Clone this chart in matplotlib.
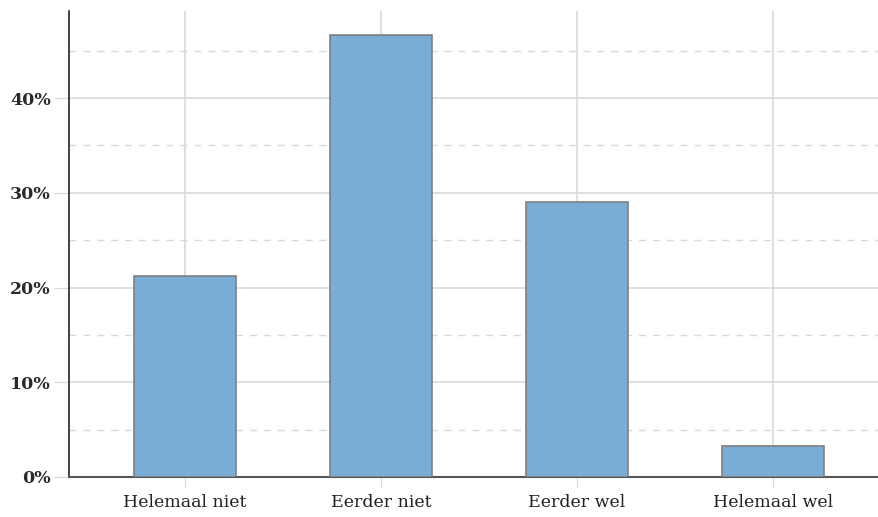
import matplotlib.pyplot as plt
from matplotlib.ticker import MultipleLocator, FuncFormatter

# Data
categories = ["Helemaal niet", "Eerder niet", "Eerder wel", "Helemaal wel"]
percentages = [21.2, 46.7, 29.0, 3.3]

plt.rcParams['font.family'] = ['DejaVu Serif']

fig = plt.figure(figsize=(8.79, 5.17), dpi=100)
ax = fig.add_axes([0.0785, 0.0774, 0.9215, 0.9013])

x = range(len(categories))
ax.bar(x, percentages, width=0.52, color='#7aadd5', edgecolor='#7f7f7f',
       linewidth=1.2, zorder=3)

ax.set_xlim(-0.59, 3.54)
ax.set_ylim(0, 49.2)
ax.set_xticks(list(x))
ax.set_xticklabels(categories)

ax.yaxis.set_major_locator(MultipleLocator(10))
ax.yaxis.set_minor_locator(MultipleLocator(5))
ax.yaxis.set_major_formatter(FuncFormatter(lambda v, p: f"{v:.0f}%"))

# gridlines
ax.grid(axis='y', which='major', color='#d9d9d9', linewidth=1.2, zorder=0)
ax.grid(axis='y', which='minor', color='#d9d9d9', linewidth=1.0,
        linestyle=(0, (5, 5)), zorder=0)
ax.grid(axis='x', which='major', color='#d9d9d9', linewidth=1.2, zorder=0)

for side in ['top', 'right']:
    ax.spines[side].set_visible(False)
ax.spines['left'].set_color('#222222')
ax.spines['left'].set_linewidth(1.2)
ax.spines['bottom'].set_color('#555555')
ax.spines['bottom'].set_linewidth(1.5)

ax.tick_params(axis='y', which='major', length=11, color='#d9d9d9',
               labelsize=12.5, labelcolor='#2a2a2a', pad=2)
ax.tick_params(axis='y', which='minor', length=0)
ax.tick_params(axis='x', length=8, color='#d9d9d9', labelsize=12.5,
               labelcolor='#222222', pad=4)
for lbl in ax.get_yticklabels():
    lbl.set_fontweight('semibold')

fig.savefig('out.png', dpi=100)
